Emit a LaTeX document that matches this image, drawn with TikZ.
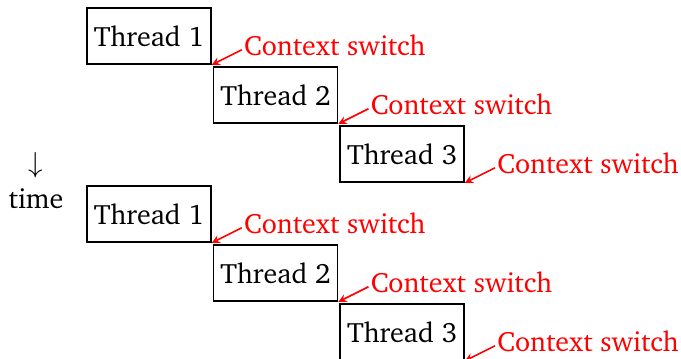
\documentclass[tikz,border=0pt]{standalone}
\usepackage[T1]{fontenc}
\usepackage{charter}
\usetikzlibrary{arrows, positioning}

\begin{document}
\begin{tikzpicture}[x=0.5pt,y=-0.5pt,font=\fontsize{14}{16}\selectfont]
    \tikzset{
        thread node/.style={rectangle, draw, line width=0.8pt, minimum width=62pt, minimum height=28pt, inner sep=0pt},
        switch node/.style={text=red, inner sep=1pt},
        switch edge/.style={->, >=stealth, red, line width=0.8pt}
      }
\useasboundingbox (0,0) rectangle (681,359);
\node[align=center] (time) at (36,181) {$\downarrow$\\[2pt]time};
\node[thread node] (t1a) at (149,36) {Thread 1};
\node[thread node, below right=0.7pt and 0.5pt of t1a] (t2a) {Thread 2};
\node[thread node, below right=0.7pt and 0.5pt of t2a] (t3a) {Thread 3};
\node[thread node, below=60.2pt of t1a] (t1b) {Thread 1};
\node[thread node, below right=0.7pt and 0.5pt of t1b] (t2b) {Thread 2};
\node[thread node, below right=0.7pt and 0.5pt of t2b] (t3b) {Thread 3};
\foreach \t in {t1a,t2a,t3a,t1b,t2b,t3b}{
    \node[switch node, right=15pt of \t.south east, yshift=9.5pt] (c\t) {Context switch};
    \draw[switch edge] ([yshift=-2pt]c\t.west) -- (\t.south east);
}
\end{tikzpicture}
\end{document}
